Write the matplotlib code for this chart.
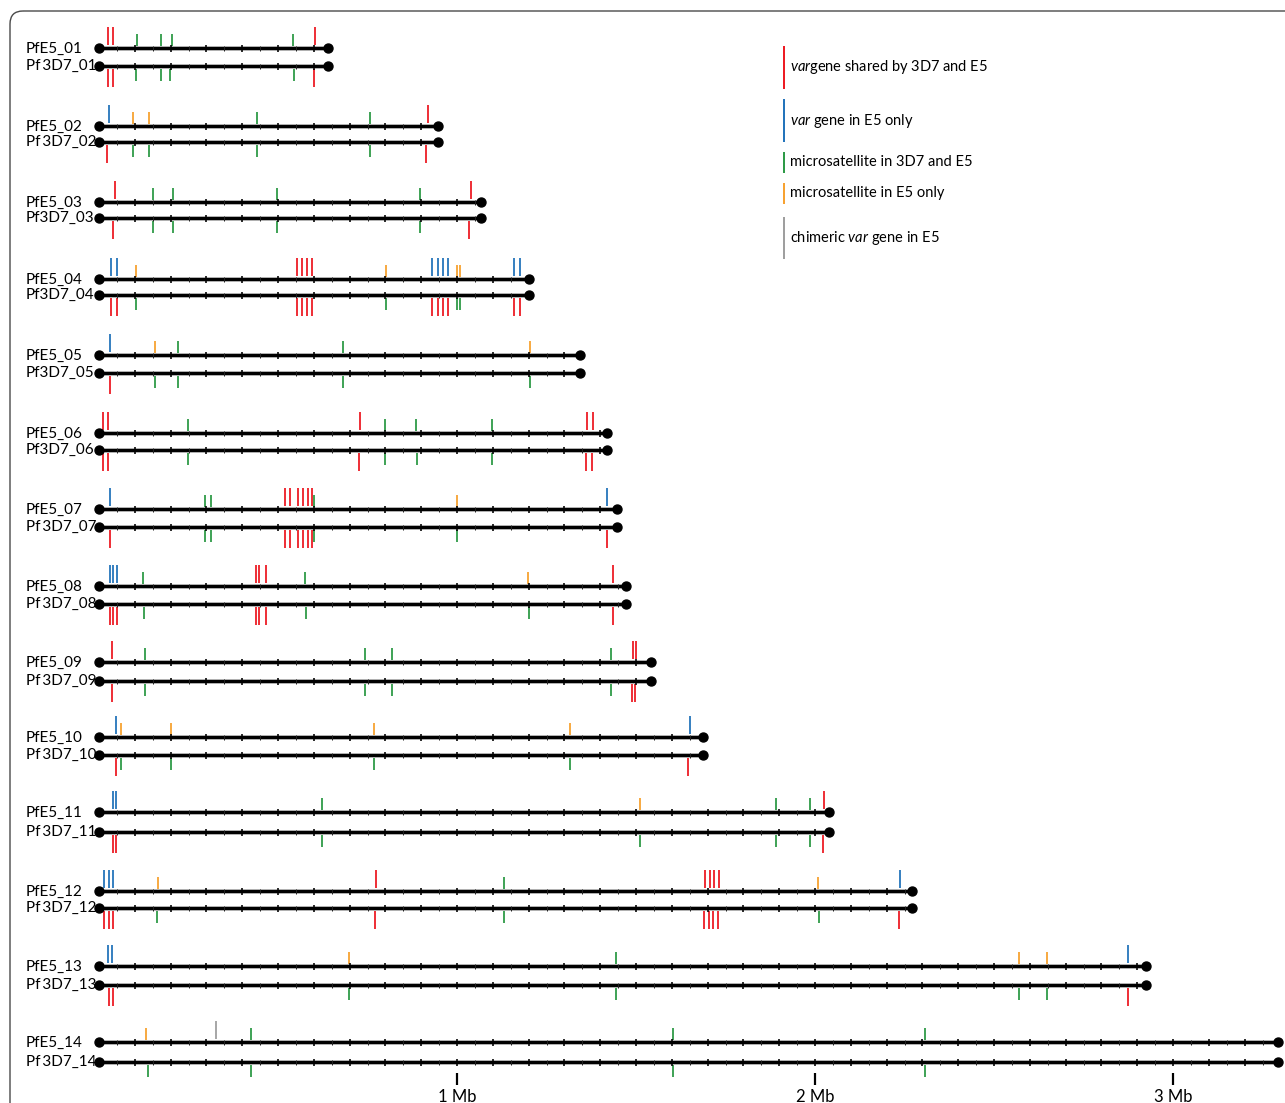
import matplotlib.pyplot as plt
import numpy as np
from matplotlib.patches import FancyBboxPatch

plt.rcParams['font.family'] = ['Lato', 'DejaVu Sans']
plt.rcParams['mathtext.fontset'] = 'custom'
plt.rcParams['mathtext.rm'] = 'Lato'
plt.rcParams['mathtext.it'] = 'Lato:italic'

# chromosome lengths in kb
chrom_len = [640, 947, 1067, 1200, 1344, 1418, 1446, 1473, 1542, 1688, 2039, 2271, 2925, 3292]

e5_labels = ['PfE5_%02d' % (i + 1) for i in range(14)]
pf3d7_labels = ['Pf\u20093D7_01', 'Pf\u20093D7_02', 'Pf3D7_03', 'Pf3D7_04', 'Pf3D7_05', 'Pf3D7_06',
                'Pf\u20093D7_07', 'Pf\u20093D7_08', 'Pf\u20093D7_09', 'Pf\u20093D7_10',
                'Pf\u20093D7_11', 'Pf\u20093D7_12', 'Pf\u20093D7_13', 'Pf\u20093D7_14']

# marks on the E5 chromosomes (kb, kind)
e5_marks = [
    [(25, 'var'), (39, 'var'), (106, 'ms'), (173, 'ms'), (204, 'ms'), (542, 'ms'), (603, 'var')],
    [(28, 'var_e5'), (95, 'ms_e5'), (140, 'ms_e5'), (441, 'ms'), (757, 'ms'), (919, 'var')],
    [(45, 'var'), (150, 'ms'), (208, 'ms'), (497, 'ms'), (897, 'ms'), (1039, 'var')],
    [(34, 'var_e5'), (50, 'var_e5'), (103, 'ms_e5'), (553, 'var'), (567, 'var'), (581, 'var'),
     (595, 'var'), (802, 'ms_e5'), (930, 'var_e5'), (947, 'var_e5'), (961, 'var_e5'),
     (975, 'var_e5'), (1000, 'ms_e5'), (1008, 'ms_e5'), (1159, 'var_e5'), (1176, 'var_e5')],
    [(31, 'var_e5'), (156, 'ms_e5'), (221, 'ms'), (682, 'ms'), (1204, 'ms_e5')],
    [(11, 'var'), (25, 'var'), (249, 'ms'), (729, 'var'), (799, 'ms'), (885, 'ms'),
     (1098, 'ms'), (1363, 'var'), (1380, 'var')],
    [(31, 'var_e5'), (296, 'ms'), (313, 'ms'), (520, 'var'), (534, 'var'), (556, 'var'),
     (570, 'var'), (584, 'var'), (595, 'var'), (601, 'ms'), (1000, 'ms_e5'), (1419, 'var_e5')],
    [(31, 'var_e5'), (39, 'var_e5'), (50, 'var_e5'), (123, 'ms'), (439, 'var'), (447, 'var'),
     (466, 'var'), (575, 'ms'), (1198, 'ms_e5'), (1436, 'var')],
    [(36, 'var'), (128, 'ms'), (743, 'ms'), (818, 'ms'), (1430, 'ms'), (1492, 'var'), (1500, 'var')],
    [(47, 'var_e5'), (61, 'ms_e5'), (201, 'ms_e5'), (768, 'ms_e5'), (1316, 'ms_e5'), (1651, 'var_e5')],
    [(39, 'var_e5'), (47, 'var_e5'), (623, 'ms'), (1511, 'ms_e5'), (1891, 'ms'), (1986, 'ms'),
     (2025, 'var')],
    [(14, 'var_e5'), (28, 'var_e5'), (39, 'var_e5'), (165, 'ms_e5'), (774, 'var'), (1131, 'ms'),
     (1693, 'var'), (1707, 'var'), (1718, 'var'), (1732, 'var'), (2008, 'ms_e5'), (2237, 'var_e5')],
    [(25, 'var_e5'), (36, 'var_e5'), (698, 'ms_e5'), (1444, 'ms'), (2570, 'ms_e5'),
     (2648, 'ms_e5'), (2874, 'var_e5')],
    [(131, 'ms_e5'), (327, 'chim'), (425, 'ms'), (1603, 'ms'), (2307, 'ms')],
]

# marks on the 3D7 chromosomes (kb, kind)
pf3d7_marks = [
    [(25, 'var'), (39, 'var'), (103, 'ms'), (173, 'ms'), (198, 'ms'), (545, 'ms'), (600, 'var')],
    [(22, 'var'), (95, 'ms'), (140, 'ms'), (441, 'ms'), (757, 'ms'), (913, 'var')],
    [(39, 'var'), (150, 'ms'), (208, 'ms'), (497, 'ms'), (897, 'ms'), (1034, 'var')],
    [(34, 'var'), (50, 'var'), (103, 'ms'), (553, 'var'), (567, 'var'), (581, 'var'),
     (595, 'var'), (802, 'ms'), (930, 'var'), (947, 'var'), (961, 'var'), (975, 'var'),
     (1000, 'ms'), (1008, 'ms'), (1159, 'var'), (1176, 'var')],
    [(31, 'var'), (156, 'ms'), (221, 'ms'), (682, 'ms'), (1204, 'ms')],
    [(11, 'var'), (25, 'var'), (249, 'ms'), (726, 'var'), (799, 'ms'), (888, 'ms'),
     (1098, 'ms'), (1360, 'var'), (1377, 'var')],
    [(31, 'var'), (296, 'ms'), (313, 'ms'), (520, 'var'), (534, 'var'), (556, 'var'),
     (570, 'var'), (584, 'var'), (595, 'var'), (601, 'ms'), (1000, 'ms'), (1419, 'var')],
    [(31, 'var'), (39, 'var'), (50, 'var'), (126, 'ms'), (439, 'var'), (447, 'var'),
     (466, 'var'), (578, 'ms'), (1200, 'ms'), (1436, 'var')],
    [(36, 'var'), (128, 'ms'), (743, 'ms'), (818, 'ms'), (1430, 'ms'), (1489, 'var'), (1497, 'var')],
    [(47, 'var'), (61, 'ms'), (201, 'ms'), (768, 'ms'), (1316, 'ms'), (1645, 'var')],
    [(39, 'var'), (47, 'var'), (623, 'ms'), (1511, 'ms'), (1891, 'ms'), (1986, 'ms'), (2022, 'var')],
    [(14, 'var'), (28, 'var'), (39, 'var'), (162, 'ms'), (771, 'var'), (1131, 'ms'),
     (1690, 'var'), (1704, 'var'), (1715, 'var'), (1729, 'var'), (2011, 'ms'), (2235, 'var')],
    [(28, 'var'), (39, 'var'), (698, 'ms'), (1444, 'ms'), (2570, 'ms'), (2648, 'ms'), (2874, 'var')],
    [(137, 'ms'), (425, 'ms'), (1603, 'ms'), (2307, 'ms')],
]

colors = {'var': '#ed1c24', 'var_e5': '#2474bb', 'ms': '#2e9a47',
          'ms_e5': '#f7a231', 'chim': '#9f9f9f'}
legend_kinds = ['var', 'var_e5', 'ms', 'ms_e5', 'chim']
legend_text = [r'$\it{var}$gene shared by 3D7 and E5',
               r'$\it{var}$ gene in E5 only',
               'microsatellite in 3D7 and E5',
               'microsatellite in E5 only',
               r'chimeric $\it{var}$ gene in E5']
scale_mb = [1, 2, 3]

W, H = 1285, 1103
x0_px, px_per_kb = 99, 0.358
PT = 0.72  # points per pixel at 100 dpi

# row layout (pixels from top)
row_top = [48, 126, 202, 279, 355, 433, 509, 586, 662, 737, 812, 891, 966, 1042]
row_bot = [66, 142, 218, 295, 373, 450, 527, 604, 681, 755, 832, 908, 985, 1062]

fig = plt.figure(figsize=(W / 100, H / 100), dpi=100)
ax = fig.add_axes([0, 0, 1, 1])
ax.set_xlim(-x0_px / px_per_kb, (W - x0_px) / px_per_kb)
ax.set_ylim(H, 0)
ax.axis('off')

# pixel overlay for frame and legend
pax = fig.add_axes([0, 0, 1, 1], zorder=3)
pax.set_xlim(0, W)
pax.set_ylim(H, 0)
pax.axis('off')
pax.patch.set_alpha(0)

frame = FancyBboxPatch((10, 11), 1500, 1300, boxstyle='round,pad=0,rounding_size=13',
                       fill=False, ec='#4a4a4a', lw=1.4 * PT)
pax.add_patch(frame)


def draw_chrom(y, length):
    ax.plot([0, length], [y, y], color='#b0b0b0', lw=5 * PT, solid_capstyle='butt', zorder=2)
    ax.plot([0, length], [y, y], color='black', lw=3 * PT, solid_capstyle='butt', zorder=3)
    major = np.arange(100, length, 100)
    minor = np.arange(50, length, 100)
    ax.vlines(major, y - 3.5, y + 3.5, color='black', lw=1.6 * PT, zorder=3)
    ax.vlines(minor, y - 2.5, y + 2.5, color='#222222', lw=1.0 * PT, zorder=3)
    ax.plot([0, length], [y, y], 'o', color='black', ms=9 * PT, zorder=4)


label_x = -x0_px / px_per_kb + 26 / px_per_kb
for i, length in enumerate(chrom_len):
    y_top = row_top[i]
    y_bot = row_bot[i]
    draw_chrom(y_top, length)
    draw_chrom(y_bot, length)
    ax.text(label_x, y_top + 0.5, e5_labels[i], fontsize=11, va='center', ha='left')
    ax.text(label_x, y_bot - 0.5, pf3d7_labels[i], fontsize=11, va='center', ha='left')

    for kb, kind in e5_marks[i]:
        if kind in ('ms', 'ms_e5'):
            y1, y2 = y_top - 14, y_top - 2
        else:
            y1, y2 = y_top - 21, y_top - 3
        ax.vlines(kb, y1, y2, color=colors[kind], lw=1.8 * PT, zorder=1)
    for kb, kind in pf3d7_marks[i]:
        if kind == 'ms':
            y1, y2 = y_bot + 3, y_bot + 15
        else:
            y1, y2 = y_bot + 3, y_bot + 21
        ax.vlines(kb, y1, y2, color=colors[kind], lw=1.8 * PT, zorder=1)

# scale bar
for mb in scale_mb:
    ax.vlines(mb * 1000, 1073, 1085, color='black', lw=2.2 * PT)
    ax.text(mb * 1000, 1089, '%d Mb' % mb, fontsize=12, ha='center', va='top')

# legend
leg_spans = [(46, 89), (99, 142), (152, 173), (183, 204), (217, 259)]
for kind, txt, (ya, yb) in zip(legend_kinds, legend_text, leg_spans):
    pax.vlines(784, ya, yb, color=colors[kind], lw=2 * PT)
    pax.text(790, (ya + yb) / 2, txt, fontsize=10.5, va='center', ha='left')

fig.savefig('out.png', dpi=100)
